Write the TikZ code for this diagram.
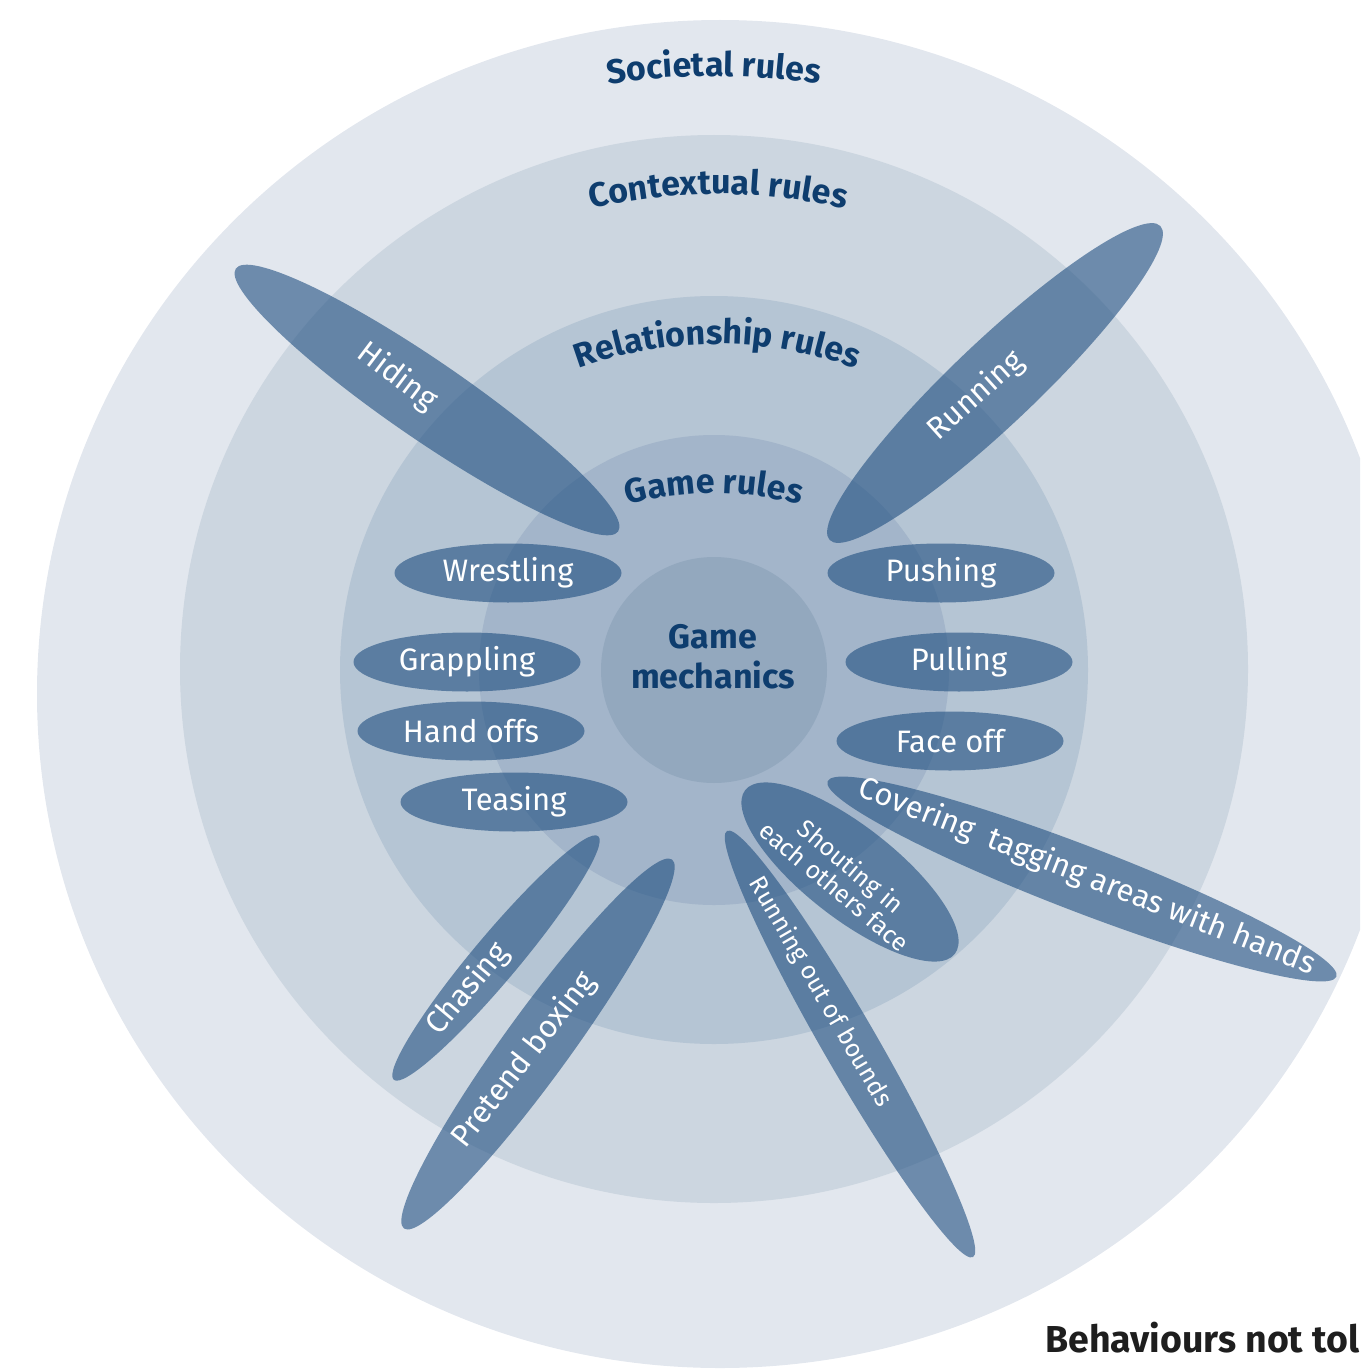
\documentclass[tikz,border=0pt]{standalone}
\usepackage{fontspec}
\setmainfont{Fira Sans}
\usetikzlibrary{shapes.geometric,decorations.text}

\definecolor{ringA}{HTML}{E2E7EE}
\definecolor{ringB}{HTML}{CCD6E0}
\definecolor{ringC}{HTML}{B5C5D4}
\definecolor{ringD}{HTML}{A3B5CA}
\definecolor{ringE}{HTML}{93A8BE}
\definecolor{navy}{HTML}{0E3D6E}
\definecolor{petalfill}{HTML}{1F4E80}
\definecolor{ink}{HTML}{1E1E1E}

\newcommand\headfont{\fontsize{34}{34}\selectfont\bfseries}

\tikzset{
  petal/.style={ellipse, draw=none, fill=petalfill, fill opacity=0.6,
    text opacity=1, inner sep=0pt},
  blob/.style={petal, minimum width=227pt, minimum height=59pt,
    text=white, font=\fontsize{31}{31}\selectfont},
  lbl/.style={text=white, inner sep=0pt, font=\fontsize{31}{31}\selectfont},
  smalllbl/.style={text=white, inner sep=0pt, align=center,
    font=\fontsize{25}{26}\selectfont},
  headarc/.style={decorate, decoration={text along path, text align=center,
    text={|\headfont\color{navy}|#1}}}
}

\begin{document}
\begin{tikzpicture}[x=1pt,y=-1pt]
\useasboundingbox (0,0) rectangle (1360,1370);
\clip (0,0) rectangle (1360,1370);

% concentric rule rings
\fill[ringA] (720,694) ellipse [x radius=683pt, y radius=674pt];
\fill[ringB] (714,669) circle [radius=534pt];
\fill[ringC] (714,670) circle [radius=374pt];
\fill[ringD] (714,670) circle [radius=235pt];
\fill[ringE] (714,670) circle [radius=113pt];

% ring titles set along arcs
\path[headarc=Societal rules] (714,756) ++(-120:680) arc [start angle=-120, end angle=-60, radius=680];
\path[headarc=Contextual rules] (718,744) ++(-125:550) arc [start angle=-125, end angle=-55, radius=550];
\path[headarc=Relationship rules] (717,744) ++(-140:400) arc [start angle=-140, end angle=-40, radius=400];
\path[headarc=Game rules] (714,813) ++(-140:320) arc [start angle=-140, end angle=-40, radius=320];

\node[font=\fontsize{34}{40}\selectfont\bfseries, text=navy, align=center]
  (mech) at (713,657) {Game\\mechanics};

% behaviours around the centre
\node[blob] (wrestling) at (508,573) {Wrestling};
\node[blob] (pushing)   at (941,573) {Pushing};
\node[blob] (grappling) at (467,662) {Grappling};
\node[blob] (pulling)   at (959,662) {Pulling};
\node[blob] (handoffs)  at (471,731) {Hand offs};
\node[blob] (faceoff)   at (950,741) {Face off};
\node[blob] (teasing)   at (514,802) {Teasing};

% elongated behaviours reaching across the rings
\node[petal, minimum width=464pt, minimum height=78pt, rotate=-34.5] (hiding) at (427,400) {};
\node[petal, minimum width=456pt, minimum height=84pt, rotate=43.5] (running) at (995,383) {};
\node[petal, minimum width=545pt, minimum height=66pt, rotate=-21] (covering) at (1082,879) {};
\node[petal, minimum width=266pt, minimum height=92pt, rotate=-38] (shouting) at (850,872) {};
\node[petal, minimum width=492pt, minimum height=54pt, rotate=-60] (outbounds) at (850,1044) {};
\node[petal, minimum width=318pt, minimum height=46pt, rotate=50] (chasing) at (496,958) {};
\node[petal, minimum width=456pt, minimum height=66pt, rotate=54] (boxing) at (538,1044) {};

\node[lbl, rotate=-37] (hidingtxt) at (397,377) {Hiding};
\node[lbl, rotate=42] (runningtxt) at (976,396) {Running};
\node[lbl, rotate=-21.5] (coveringtxt) at (1087,877) {Covering~ tagging areas with hands};
\node[smalllbl, rotate=-40] (shoutingtxt) at (843,876) {Shouting in\\each others face};
\node[smalllbl, rotate=-60] (outboundstxt) at (820,992) {Running out of bounds};
\node[lbl, rotate=50] (chasingtxt) at (468,989) {Chasing};
\node[lbl, rotate=52] (boxingtxt) at (524,1060) {Pretend boxing};

\node[anchor=base west, inner sep=0pt, text=ink,
  font=\fontsize{37.5}{37.5}\selectfont\bfseries] (behaviours) at (1045,1352) {Behaviours not tol};
\end{tikzpicture}
\end{document}
